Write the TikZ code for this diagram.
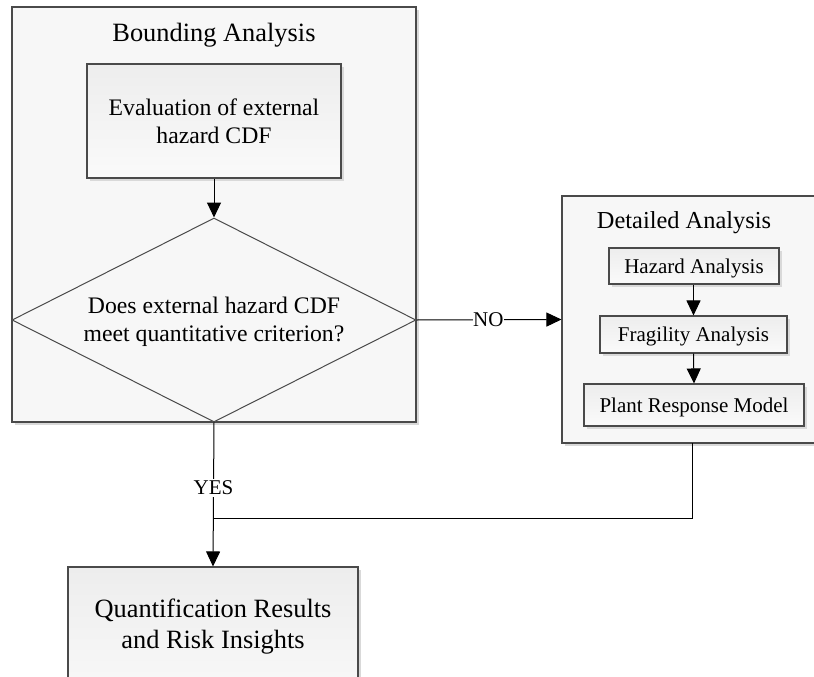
\documentclass[tikz,border=0pt]{standalone}
\usepackage{fontspec}
\setmainfont{Liberation Serif}
\usetikzlibrary{arrows.meta,shapes.geometric,shadows}

\definecolor{edge}{HTML}{4A4A4A}
\definecolor{panel}{HTML}{F7F7F7}
\definecolor{boxtop}{HTML}{EDEDED}
\definecolor{boxbot}{HTML}{FAFAFA}
\definecolor{shade}{HTML}{D9D9D9}

\tikzset{
  withshadow/.style={drop shadow={shadow xshift=3pt,shadow yshift=-3pt,fill=shade,opacity=1}},
  panelbox/.style={draw=edge, line width=1.1pt, fill=panel, withshadow, inner sep=0pt},
  stepbox/.style={draw=edge, line width=1.1pt, top color=boxtop, bottom color=boxbot, withshadow, inner sep=0pt},
  bigtxt/.style={font=\fontsize{26.4}{31}\selectfont, align=center},
  midtxt/.style={font=\fontsize{23.7}{28}\selectfont, align=center},
  subtxt/.style={font=\fontsize{24.4}{28}\selectfont},
  smalltxt/.style={font=\fontsize{21}{25}\selectfont},
  flow/.style={draw=black, line width=1pt},
  arrow/.style={flow, -{Triangle[width=14pt,length=15pt]}},
  tag/.style={smalltxt, fill=white, inner sep=2pt}
}

\begin{document}
\begin{tikzpicture}[x=1pt,y=-1pt]
  \useasboundingbox (0,0) rectangle (814,677);
  \clip (0,0) rectangle (814,677);
  \fill[white] (0,0) rectangle (814,677);

  % Bounding analysis panel
  \node[panelbox, minimum width=404pt, minimum height=415pt] (bound) at (214,214.5) {};
  \node[bigtxt, anchor=base] (boundtitle) at (214,42) {Bounding Analysis};
  \node[stepbox, minimum width=254pt, minimum height=114pt] (eval) at (214,121) {};
  \node[midtxt] (evaltxt) at (214,121) {Evaluation of external\\hazard CDF};
  \node[diamond, draw=edge, line width=1pt, fill=panel, inner sep=0pt,
        minimum width=404pt, minimum height=204pt] (dec) at (214,320) {};
  \node[midtxt] (dectxt) at (214,321.5) {Does external hazard CDF\\meet quantitative criterion?};

  % Detailed analysis panel
  \node[panelbox, minimum width=268pt, minimum height=247pt] (det) at (696,319.5) {};
  \node[subtxt, anchor=base] (dettitle) at (684,228) {Detailed Analysis};
  \node[stepbox, minimum width=170pt, minimum height=36pt] (haz) at (694,266) {};
  \node[smalltxt, anchor=base] (haztxt) at (694,273) {Hazard Analysis};
  \node[stepbox, minimum width=187pt, minimum height=37pt] (frag) at (693.5,334.5) {};
  \node[smalltxt, anchor=base] (fragtxt) at (693.5,341) {Fragility Analysis};
  \node[stepbox, minimum width=220pt, minimum height=42pt] (plant) at (694,405) {};
  \node[smalltxt, anchor=base] (planttxt) at (694,412) {Plant Response Model};

  % Results
  \node[stepbox, minimum width=290pt, minimum height=143pt] (quant) at (213,638.5) {};
  \node[bigtxt] (quanttxt) at (213,626.5) {Quantification Results\\and Risk Insights};

  % Connectors
  \draw[arrow] (eval.south) -- (dec.north);
  \draw[arrow] (dec.east) -- (det.west) node[tag, inner sep=0.5pt, pos=0.495] (no) {NO};
  \draw[arrow] (haz.south -| frag.north) -- (frag.north);
  \draw[arrow] (frag.south) -- (plant.north);
  \coordinate (join) at (214,518);
  \coordinate (detout) at (692,443);
  \draw[arrow] (dec.south) -- (quant.north) node[tag, pos=0.456] (yes) {YES};
  \draw[flow] (detout) |- (join);
\end{tikzpicture}
\end{document}
